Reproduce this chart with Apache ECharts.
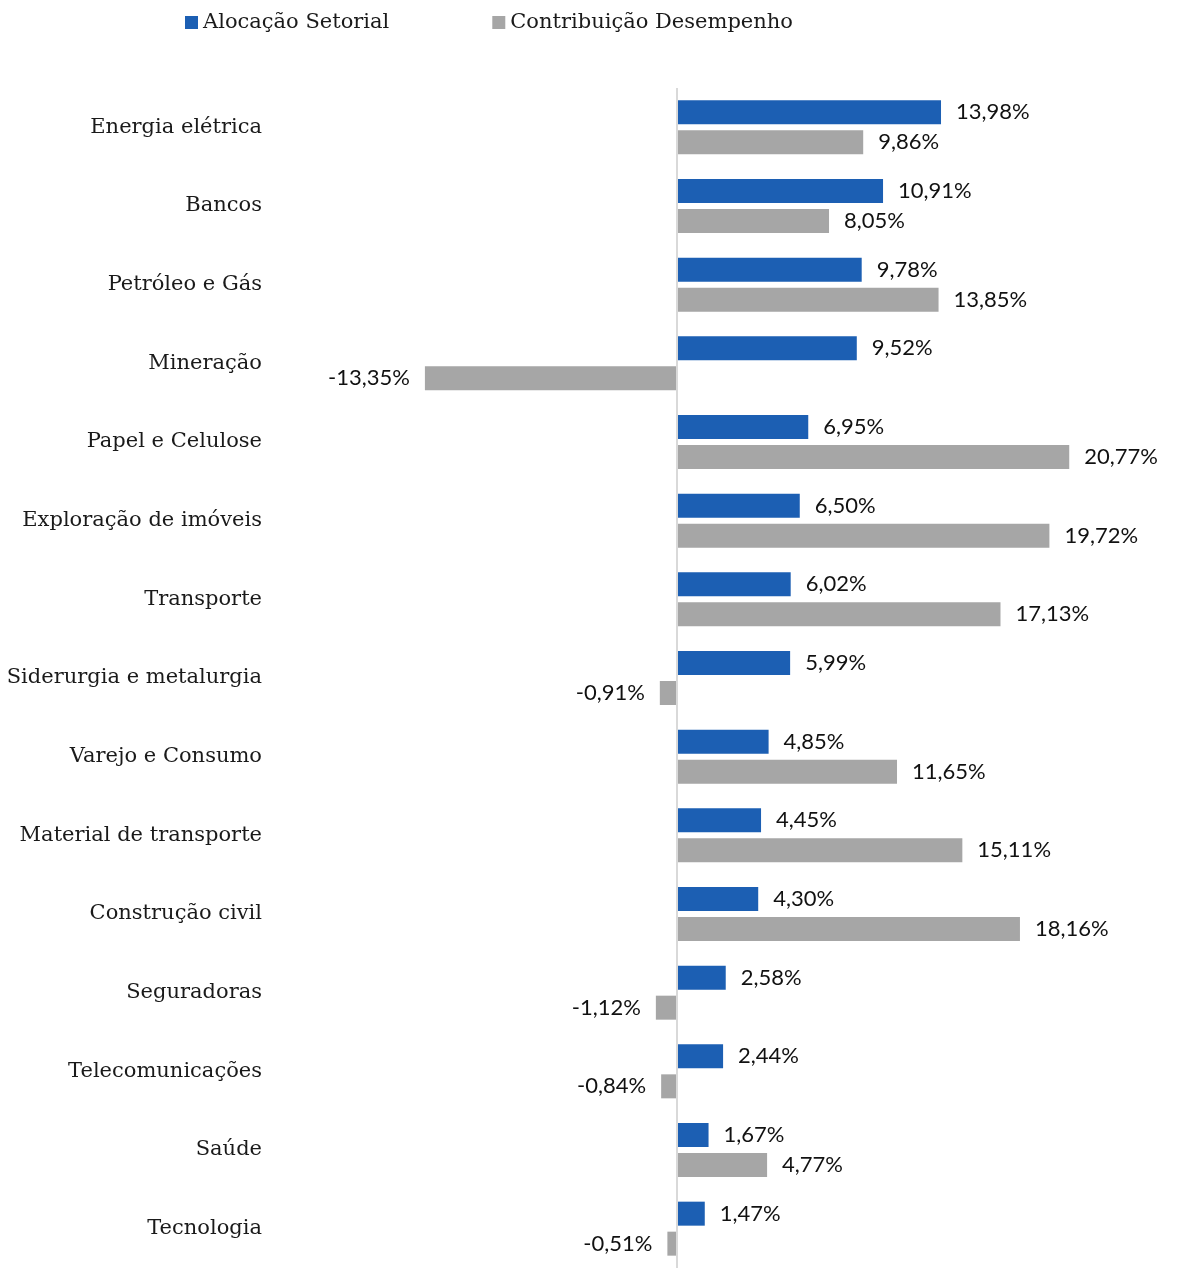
<!DOCTYPE html>
<html><head><meta charset="utf-8">
<script src="https://cdn.jsdelivr.net/npm/echarts@6/dist/echarts.min.js"></script>
<style>html,body{margin:0;padding:0;background:#fff}#c{width:1180px;height:1268px}</style>
</head><body><div id="c"></div>
<script>
const categories = ['Energia elétrica','Bancos','Petróleo e Gás','Mineração','Papel e Celulose','Exploração de imóveis','Transporte','Siderurgia e metalurgia','Varejo e Consumo','Material de transporte','Construção civil','Seguradoras','Telecomunicações','Saúde','Tecnologia'];
const alocacao = [13.98,10.91,9.78,9.52,6.95,6.50,6.02,5.99,4.85,4.45,4.30,2.58,2.44,1.67,1.47];
const contribuicao = [9.86,8.05,13.85,-13.35,20.77,19.72,17.13,-0.91,11.65,15.11,18.16,-1.12,-0.84,4.77,-0.51];
const seriesNames = ['Alocação Setorial','Contribuição Desempenho'];

const serifFont = '"DejaVu Serif", serif';
const labelFont = 'Lato, sans-serif';
const fmt = v => v.toFixed(2).replace('.', ',') + '%';

function mkData(arr){
  return arr.map(v => ({value: v, label: {position: v < 0 ? 'left' : 'right'}}));
}

const chart = echarts.init(document.getElementById('c'), null, {renderer:'canvas'});
chart.setOption({
  animation: false,
  legend: {
    left: 180, top: 7, itemWidth: 13, itemHeight: 13, itemGap: 103, icon: 'rect',
    textStyle: {fontFamily: serifFont, fontSize: 21, color: '#1a1a1a'},
    data: seriesNames
  },
  grid: {left: 271, top: 88, width: 897, height: 1184},
  xAxis: {type: 'value', min: -21.5, max: 26, show: false},
  yAxis: {
    type: 'category', data: categories, inverse: true,
    axisLine: {show: false}, axisTick: {show: false},
    axisLabel: {margin: 9, fontFamily: serifFont, fontSize: 21, color: '#1a1a1a', padding: [5,0,0,0]}
  },
  series: [
    {name: seriesNames[0], type: 'bar', data: mkData(alocacao), barWidth: 24, barGap: '25%',
     itemStyle: {color: '#1c5fb3'},
     label: {show: true, distance: 15, formatter: p => fmt(p.value), fontFamily: labelFont, fontSize: 22, color: '#111', padding: [3,0,0,0]},
     markLine: {silent: true, symbol: 'none', label: {show: false},
       lineStyle: {color: '#d9d9d9', width: 2, type: 'solid'}, data: [{xAxis: 0}]}},
    {name: seriesNames[1], type: 'bar', data: mkData(contribuicao), barWidth: 24,
     itemStyle: {color: '#a6a6a6'},
     label: {show: true, distance: 15, formatter: p => fmt(p.value), fontFamily: labelFont, fontSize: 22, color: '#111', padding: [3,0,0,0]}}
  ]
});
</script></body></html>
